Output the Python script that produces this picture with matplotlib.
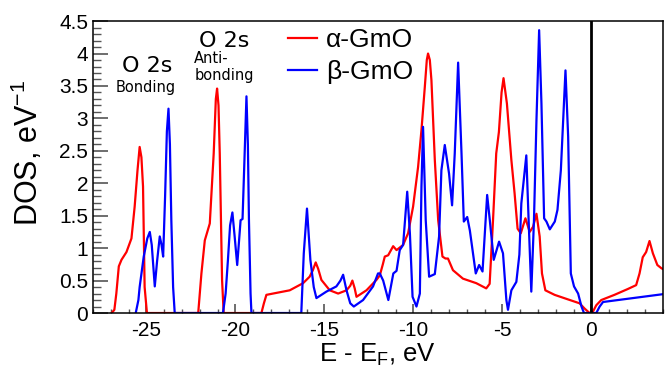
import matplotlib
matplotlib.use("Agg")
import matplotlib.pyplot as plt
from matplotlib.ticker import MultipleLocator, FuncFormatter

plt.rcParams['font.family'] = ['Liberation Sans', 'DejaVu Sans']
plt.rcParams['mathtext.fontset'] = 'custom'
plt.rcParams['mathtext.rm'] = 'Liberation Sans'
plt.rcParams['mathtext.default'] = 'regular'

# alpha-GmO DOS
alpha_E = [-26.95, -26.8, -26.69, -26.55, -26.4, -26.12, -25.84, -25.66, -25.5, -25.38,
           -25.28, -25.19, -25.1, -24.97, -22.09, -21.91, -21.72, -21.44, -21.22, -21.1,
           -21.03, -20.95, -20.88, -20.75, -20.66, -18.54, -18.4, -18.26, -17.89, -16.95,
           -16.2, -15.83, -15.65, -15.49, -15.35, -15.17, -14.7, -14.23, -13.76, -13.55,
           -13.43, -13.3, -13.2, -12.64, -12.08, -11.89, -11.72, -11.61, -11.42, -11.14,
           -10.95, -10.58, -10.3, -10.02, -9.74, -9.55, -9.36, -9.25, -9.18, -9.08,
           -8.99, -8.8, -8.61, -8.37, -8.2, -8.06, -7.78, -7.22, -6.47, -5.91,
           -5.72, -5.53, -5.35, -5.2, -5.05, -4.94, -4.75, -4.5, -4.32, -4.15,
           -3.97, -3.71, -3.47, -3.28, -3.09, -2.91, -2.78, -2.59, -2.07, -1.32,
           -0.67, -0.39, -0.11, 0.08, 0.27, 0.55, 1.29, 2.04, 2.51, 2.7,
           2.88, 3.07, 3.26, 3.45, 3.7, 3.93, 4.0]
alpha_dos = [0.0, 0.05, 0.3, 0.72, 0.82, 0.94, 1.15, 1.64, 2.2, 2.56,
             2.4, 1.95, 0.4, 0.0, 0.0, 0.61, 1.12, 1.38, 2.46, 3.3,
             3.46, 3.2, 2.46, 0.51, 0.0, 0.0, 0.15, 0.28, 0.30, 0.35,
             0.46, 0.56, 0.66, 0.78, 0.68, 0.51, 0.35, 0.30, 0.35, 0.42,
             0.50, 0.38, 0.25, 0.35, 0.51, 0.58, 0.75, 0.87, 0.89, 1.03,
             0.97, 1.05, 1.23, 1.64, 2.25, 2.82, 3.49, 3.9, 4.0, 3.9,
             3.59, 2.36, 1.43, 0.87, 0.84, 0.84, 0.66, 0.53, 0.46, 0.38,
             0.45, 1.43, 2.46, 2.79, 3.4, 3.62, 3.23, 2.36, 1.85, 1.3,
             1.23, 1.46, 1.25, 1.33, 1.53, 1.18, 0.61, 0.35, 0.28, 0.21,
             0.15, 0.07, 0.0, 0.02, 0.12, 0.2, 0.28, 0.37, 0.43, 0.61,
             0.86, 0.94, 1.11, 0.92, 0.74, 0.69, 0.68]

# beta-GmO DOS
beta_E = [-25.6, -25.45, -25.38, -25.15, -24.95, -24.81, -24.7, -24.53, -24.4, -24.25,
          -24.15, -24.06, -23.95, -23.85, -23.76, -23.68, -23.6, -23.5, -23.41, -20.7,
          -20.55, -20.42, -20.3, -20.17, -20.05, -19.9, -19.8, -19.71, -19.6, -19.5,
          -19.38, -19.3, -19.24, -19.15, -19.1, -16.3, -16.16, -15.98, -15.79, -15.6,
          -15.45, -14.89, -14.33, -14.1, -13.95, -13.76, -13.55, -13.35, -12.83, -12.27,
          -11.99, -11.89, -11.7, -11.41, -11.13, -10.95, -10.77, -10.58, -10.35, -10.2,
          -10.05, -9.83, -9.64, -9.55, -9.46, -9.31, -9.12, -8.8, -8.56, -8.43,
          -8.24, -8.0, -7.83, -7.68, -7.49, -7.3, -7.17, -6.98, -6.83, -6.5,
          -6.31, -6.12, -5.86, -5.71, -5.49, -5.19, -4.97, -4.78, -4.69, -4.5,
          -4.22, -4.05, -3.94, -3.66, -3.53, -3.38, -3.23, -3.09, -2.94, -2.81,
          -2.66, -2.53, -2.34, -2.06, -1.91, -1.72, -1.59, -1.46, -1.31, -1.16,
          -0.98, -0.75, -0.56, -0.42, 0.27, 0.46, 0.65, 4.0]
beta_dos = [0.0, 0.2, 0.4, 0.87, 1.15, 1.25, 1.05, 0.41, 0.8, 1.18,
            1.05, 0.87, 1.8, 2.8, 3.15, 2.6, 1.43, 0.4, 0.0, 0.0,
            0.3, 0.82, 1.35, 1.55, 1.2, 0.74, 1.1, 1.43, 1.45, 2.3,
            3.34, 2.6, 1.43, 0.3, 0.0, 0.0, 0.92, 1.61, 0.82, 0.4,
            0.23, 0.33, 0.41, 0.5, 0.59, 0.35, 0.15, 0.10, 0.20, 0.41,
            0.61, 0.61, 0.5, 0.2, 0.61, 0.65, 0.97, 1.05, 1.87, 1.23,
            0.25, 0.1, 0.3, 1.95, 2.87, 1.43, 0.56, 0.6, 1.18, 2.2,
            2.59, 2.15, 1.66, 2.46, 3.86, 2.46, 1.41, 1.48, 1.27, 0.61,
            0.74, 0.64, 1.82, 1.43, 0.82, 1.1, 0.92, 0.2, 0.05, 0.35,
            0.48, 0.9, 1.69, 2.43, 1.43, 0.33, 1.43, 2.97, 4.36, 3.23,
            1.46, 1.41, 1.29, 1.41, 1.59, 2.2, 2.97, 3.74, 2.72, 0.61,
            0.41, 0.3, 0.1, 0.0, 0.0, 0.1, 0.17, 0.29]

x_major = [-25, -20, -15, -10, -5, 0]

fig = plt.figure(figsize=(6.71, 3.70), dpi=100)
ax = fig.add_axes([0.1386, 0.154, 0.849, 0.789])

ax.plot(alpha_E, alpha_dos, color='#ff0000', lw=1.6, label='α-GmO')
ax.plot(beta_E, beta_dos, color='#0000ff', lw=1.6, label='β-GmO')
ax.axvline(0, color='black', lw=2.0, zorder=5)

ax.set_xlim(-28, 4)
ax.set_ylim(0, 4.5)
ax.set_xticks(x_major)
ax.xaxis.set_minor_locator(MultipleLocator(1))
ax.yaxis.set_major_locator(MultipleLocator(0.5))
ax.yaxis.set_minor_locator(MultipleLocator(0.1))
fmt = FuncFormatter(lambda v, p: f'{v:g}')
ax.xaxis.set_major_formatter(fmt)
ax.yaxis.set_major_formatter(fmt)

ax.tick_params(axis='both', which='both', direction='in', labelsize=15, color='#555555')
ax.tick_params(axis='y', which='major', length=11, width=1.2)
ax.tick_params(axis='y', which='minor', length=5.5, width=1.0)
ax.tick_params(axis='x', which='major', length=6.5, width=1.2, pad=6)
ax.tick_params(axis='x', which='minor', length=3, width=1.0)
for s in ax.spines.values():
    s.set_linewidth(1.1)

ax.set_xlabel(r'E - E$_\mathregular{F}$, eV', fontsize=18.5, labelpad=1)
ax.set_ylabel(r'DOS, eV$^{\mathregular{-1}}$', fontsize=22)
ax.yaxis.set_label_coords(-0.085, 0.548)

# annotations
ax.text(0.0956, 0.8253, 'O 2s', transform=ax.transAxes, ha='center', va='baseline',
        fontsize=16, family='DejaVu Sans')
ax.text(0.0930, 0.758, 'Bonding', transform=ax.transAxes, ha='center', va='baseline',
        fontsize=10.5, family='DejaVu Sans')
ax.text(0.2298, 0.912, 'O 2s', transform=ax.transAxes, ha='center', va='baseline',
        fontsize=16, family='DejaVu Sans')
ax.text(0.1777, 0.857, 'Anti-', transform=ax.transAxes, ha='left', va='baseline',
        fontsize=10.5, family='DejaVu Sans')
ax.text(0.1777, 0.798, 'bonding', transform=ax.transAxes, ha='left', va='baseline',
        fontsize=10.5, family='DejaVu Sans')

ax.legend(loc='upper left', bbox_to_anchor=(0.342, 0.975), frameon=False, fontsize=19,
          handlelength=1.1, handletextpad=0.35, labelspacing=0.3, borderpad=0,
          borderaxespad=0)

fig.savefig('out.png', dpi=100)
